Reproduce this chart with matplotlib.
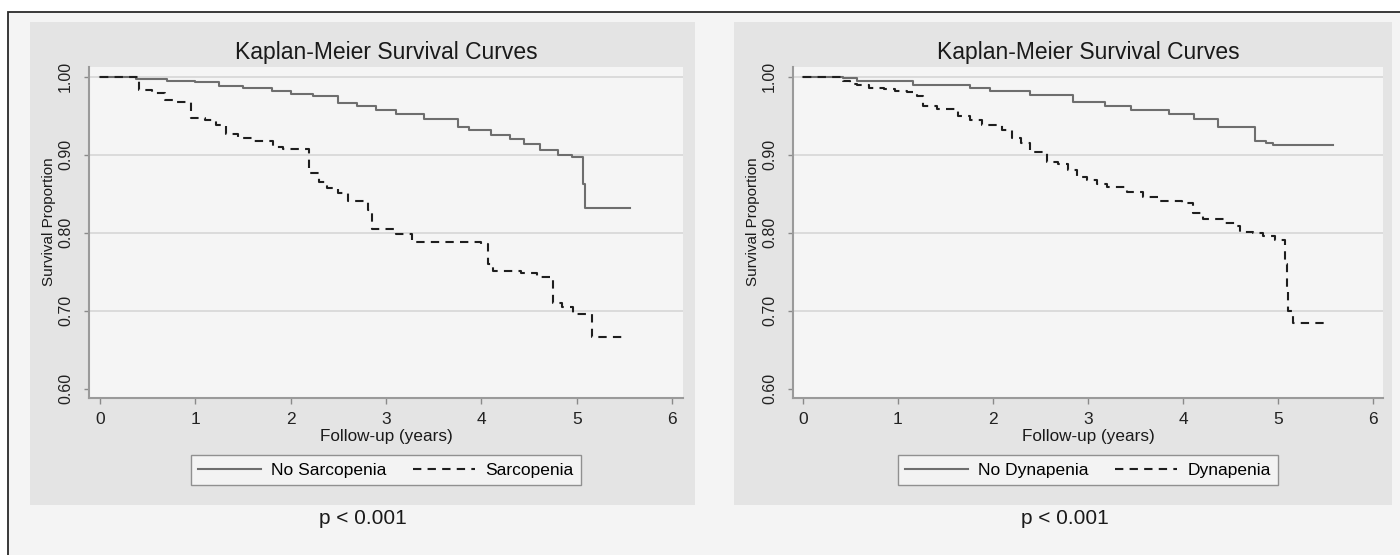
"""Two Kaplan-Meier panels (sarcopenia / dynapenia) in a Stata-like grey style."""
import matplotlib
matplotlib.use("Agg")
import matplotlib.pyplot as plt
from matplotlib.patches import Rectangle

plt.rcParams["font.family"] = ["Liberation Sans", "DejaVu Sans"]

# ----------------------------- data -----------------------------------------
TITLE = "Kaplan-Meier Survival Curves"
X_LABEL = "Follow-up (years)"
Y_LABEL = "Survival Proportion"
P_TEXT = "p < 0.001"
X_TICKS = [0, 1, 2, 3, 4, 5, 6]
Y_TICKS = [0.60, 0.70, 0.80, 0.90, 1.00]
Y_GRID = [0.70, 0.80, 0.90, 1.00]

# left panel
no_sarc_t = [0, 0.38, 0.7, 1.0, 1.25, 1.5, 1.8, 2.0, 2.23, 2.5, 2.7, 2.89, 3.1,
             3.4, 3.75, 3.87, 4.1, 4.3, 4.45, 4.62, 4.8, 4.95, 5.07, 5.09]
no_sarc_s = [1.0, 0.997, 0.995, 0.993, 0.988, 0.985, 0.982, 0.978, 0.975, 0.966,
             0.962, 0.957, 0.952, 0.946, 0.935, 0.932, 0.925, 0.920, 0.914,
             0.906, 0.900, 0.897, 0.862, 0.831]
no_sarc_end = 5.56

sarc_t = [0, 0.41, 0.55, 0.68, 0.8, 0.96, 1.1, 1.22, 1.32, 1.45, 1.62, 1.82,
          1.92, 2.19, 2.3, 2.38, 2.5, 2.6, 2.81, 2.85, 3.1, 3.27, 4.0, 4.07,
          4.12, 4.42, 4.58, 4.75, 4.85, 4.96, 5.16]
sarc_s = [1.0, 0.983, 0.979, 0.970, 0.967, 0.947, 0.945, 0.938, 0.927, 0.921,
          0.917, 0.910, 0.907, 0.876, 0.865, 0.857, 0.851, 0.841, 0.829, 0.805,
          0.798, 0.788, 0.786, 0.760, 0.751, 0.748, 0.743, 0.710, 0.705, 0.696,
          0.666]
sarc_end = 5.51

# right panel
no_dyn_t = [0, 0.42, 0.57, 1.16, 1.76, 1.97, 2.39, 2.84, 3.18, 3.45, 3.85,
            4.12, 4.37, 4.76, 4.87, 4.95]
no_dyn_s = [1.0, 0.998, 0.995, 0.989, 0.986, 0.982, 0.976, 0.967, 0.962, 0.957,
            0.952, 0.946, 0.936, 0.918, 0.915, 0.912]
no_dyn_end = 5.58

dyn_t = [0, 0.42, 0.5, 0.57, 0.7, 0.85, 0.97, 1.09, 1.2, 1.26, 1.41, 1.63,
         1.76, 1.88, 2.1, 2.2, 2.3, 2.39, 2.57, 2.68, 2.79, 2.88, 2.99, 3.09,
         3.2, 3.41, 3.58, 3.74, 3.99, 4.1, 4.21, 4.44, 4.55, 4.6, 4.74, 4.84,
         4.97, 5.07, 5.09, 5.11, 5.16]
dyn_s = [1.0, 0.994, 0.991, 0.989, 0.986, 0.984, 0.982, 0.980, 0.975, 0.963,
         0.958, 0.949, 0.944, 0.938, 0.932, 0.922, 0.915, 0.904, 0.891, 0.888,
         0.880, 0.871, 0.868, 0.863, 0.859, 0.852, 0.846, 0.840, 0.838, 0.825,
         0.817, 0.812, 0.808, 0.801, 0.800, 0.796, 0.791, 0.760, 0.730, 0.700,
         0.684]
dyn_end = 5.51

PANELS = [
    dict(groups=("No Sarcopenia", "Sarcopenia"),
         solid=(no_sarc_t, no_sarc_s, no_sarc_end),
         dashed=(sarc_t, sarc_s, sarc_end),
         box=(30, 22, 695, 505), ax=(89, 67, 683, 398), xlim=(-0.115, 6.115)),
    dict(groups=("No Dynapenia", "Dynapenia"),
         solid=(no_dyn_t, no_dyn_s, no_dyn_end),
         dashed=(dyn_t, dyn_s, dyn_end),
         box=(734, 22, 1392, 505), ax=(793, 67, 1383, 398), xlim=(-0.105, 6.105)),
]

# ----------------------------- layout helpers -------------------------------
W, H = 1400, 555
PAGE = "#f4f4f4"
PANEL = "#e4e4e4"
PLOT = "#f5f5f5"
SOLID = "#6e6e6e"
DASH = "#1e1e1e"


def fx(x):
    return x / W


def fy(y):
    return 1 - y / H


def step_xy(t, s, end):
    return list(t) + [end], list(s) + [s[-1]]


fig = plt.figure(figsize=(W / 100, H / 100), dpi=100, facecolor="white")

# outer frame that runs off the right/bottom edge of the crop
fig.patches.append(Rectangle((fx(8), fy(560)), fx(1400), fy(12) - fy(560),
                             transform=fig.transFigure, facecolor=PAGE,
                             edgecolor="#2a2a2a", lw=1.3, zorder=0))

for p in PANELS:
    x0, y0, x1, y1 = p["box"]
    fig.patches.append(Rectangle((fx(x0), fy(y1)), fx(x1) - fx(x0), fy(y0) - fy(y1),
                                 transform=fig.transFigure, facecolor=PANEL,
                                 edgecolor="none", zorder=1))
    a0, b0, a1, b1 = p["ax"]
    ax = fig.add_axes([fx(a0), fy(b1), fx(a1) - fx(a0), fy(b0) - fy(b1)])
    ax.set_facecolor(PLOT)
    ax.set_zorder(2)

    for g in Y_GRID:
        ax.axhline(g, color="#d6d6d6", lw=1.2, zorder=1)

    t, s = step_xy(*p["solid"])
    ax.step(t, s, where="post", color=SOLID, lw=1.5, zorder=3, label=p["groups"][0])
    t, s = step_xy(*p["dashed"])
    ax.step(t, s, where="post", color=DASH, lw=1.5, dashes=(4, 3), zorder=4,
            label=p["groups"][1])

    ax.set_xlim(*p["xlim"])
    ax.set_ylim(0.588, 1.0124)
    ax.set_xticks(X_TICKS)
    ax.set_xticklabels([str(v) for v in X_TICKS], fontsize=12.5)
    ax.set_yticks(Y_TICKS)
    ax.set_yticklabels([f"{v:.2f}" for v in Y_TICKS], fontsize=11.5,
                       rotation=90, va="center")
    ax.tick_params(axis="x", length=4, width=1, color="#8a8a8a", pad=6,
                   labelcolor="#222222")
    ax.tick_params(axis="y", length=3.5, width=1, color="#8a8a8a", pad=8,
                   labelcolor="#222222")
    for side in ("top", "right"):
        ax.spines[side].set_visible(False)
    for side in ("left", "bottom"):
        ax.spines[side].set_color("#9a9a9a")
        ax.spines[side].set_linewidth(1.5)

    cx = (a0 + a1) / 2
    fig.text(fx(cx), fy(52), TITLE, ha="center", va="center", fontsize=16.5,
             color="#1a1a1a")
    fig.text(fx(cx), fy(436), X_LABEL, ha="center", va="center", fontsize=12.3,
             color="#1a1a1a")
    fig.text(fx(a0 - 40), fy(222), Y_LABEL, ha="center", va="center",
             rotation=90, fontsize=11, color="#1a1a1a")
    fig.text(fx(cx - 23), fy(519), P_TEXT, ha="center", va="center", fontsize=15,
             color="#1a1a1a")

    leg = fig.legend(*ax.get_legend_handles_labels(), loc="center",
                     bbox_to_anchor=(fx(cx), fy(470)), ncol=2, fontsize=12.5,
                     handlelength=3.6, handletextpad=0.6, columnspacing=1.5,
                     borderpad=0.4, frameon=True, fancybox=False)
    leg.get_frame().set_facecolor("#f8f8f8")
    leg.get_frame().set_edgecolor("#7a7a7a")
    leg.get_frame().set_linewidth(1.0)
    leg.set_zorder(5)

fig.savefig("out.png", dpi=100, facecolor=fig.get_facecolor())
